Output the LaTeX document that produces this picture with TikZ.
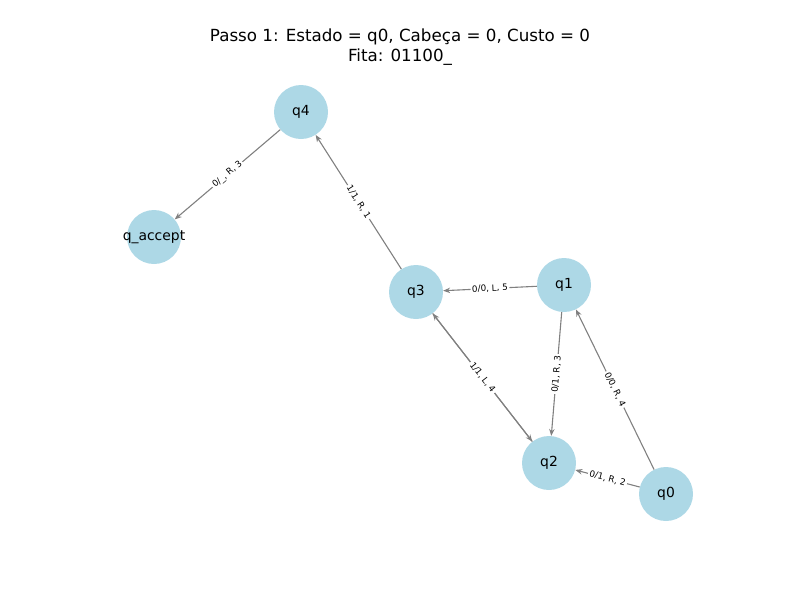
\documentclass[tikz,border=0pt]{standalone}
\usepackage{fontspec}
\setmainfont{DejaVu Sans}
\usetikzlibrary{arrows.meta}

\definecolor{statefill}{RGB}{173,216,230}

\begin{document}
\begin{tikzpicture}[x=1pt, y=-1pt,
        state/.style={circle, fill=statefill, minimum size=54pt, inner sep=0pt,
            label={[font=\fontsize{13.9}{16}\selectfont]center:#1}},
        edge/.style={draw=gray, line width=1.1pt, -{Stealth[length=7pt, width=5.5pt]}},
        rule/.style={sloped, fill=white, inner sep=1.5pt,
            font=\fontsize{8.8}{10}\selectfont},
    ]
\useasboundingbox (0,0) rectangle (800,600);

% title
\node[font=\fontsize{16.7}{20}\selectfont, align=center] (title) at (400,47)
    {Passo 1: Estado = q0, Cabeça = 0, Custo = 0\\Fita: 01100\_};

% states
\node[state=q4] (q4) at (301,112) {};
\node[state=q\_accept] (qacc) at (154,237) {};
\node[state=q3] (q3) at (416,292) {};
\node[state=q1] (q1) at (564,285) {};
\node[state=q2] (q2) at (549,463) {};
\node[state=q0] (q0) at (666,494) {};

% transitions
\draw[edge] (q4) -- node[rule] {0/\_, R, 3} (qacc);
\draw[edge] (q3) -- node[rule] {1/1, R, 1} (q4);
\draw[edge] (q1) -- node[rule] {0/0, L, 5} (q3);
\draw[edge] (q1) -- node[rule] {0/1, R, 3} (q2);
\draw[edge] (q0) -- node[rule] {0/0, R, 4} (q1);
\draw[edge] (q0) -- node[rule] {0/1, R, 2} (q2);
\draw[edge] (q2) -- (q3);
\draw[edge] (q3) -- node[rule] {1/1, L, 4} (q2);

\end{tikzpicture}
\end{document}
